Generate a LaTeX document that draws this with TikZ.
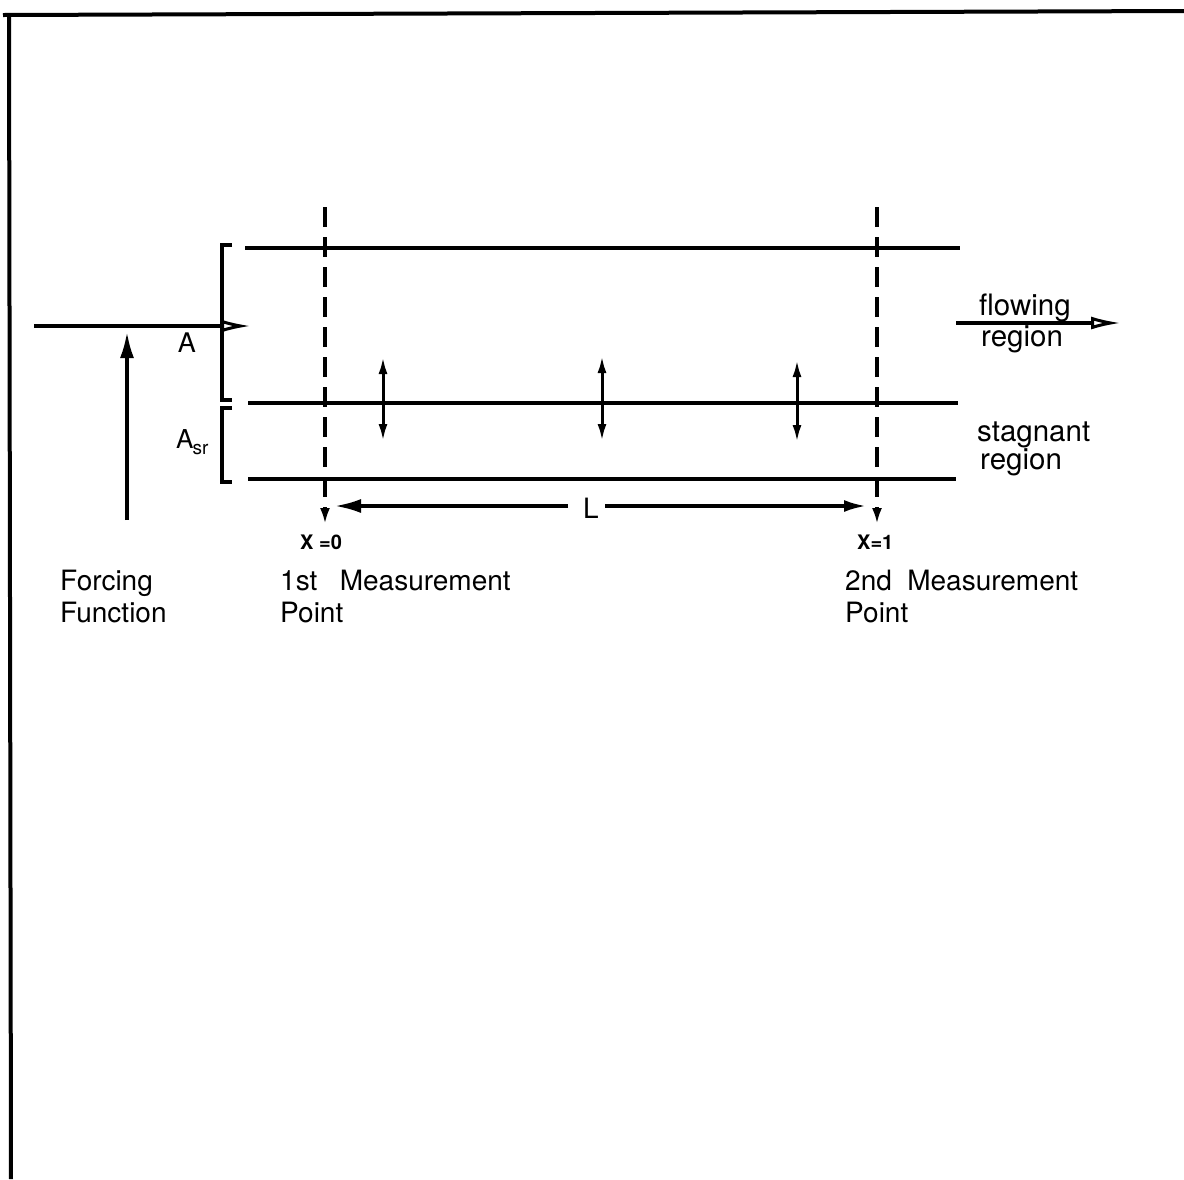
\documentclass[tikz,border=0pt]{standalone}
\usepackage{fontspec}
\setmainfont{TeX Gyre Heros}
\usetikzlibrary{arrows.meta}
\begin{document}
\begin{tikzpicture}[x=1pt,y=-1pt,
  lbl/.style={anchor=base west, inner sep=0pt, font=\fontsize{28}{32}\selectfont},
  rlbl/.style={anchor=base west, inner sep=0pt, font=\fontsize{29.5}{33}\selectfont},
  xlbl/.style={anchor=base west, inner sep=0pt, font=\bfseries\fontsize{20}{22}\selectfont},
  frameline/.style={line width=4pt},
  chan/.style={line width=3.2pt},
  brk/.style={line width=3.2pt},
  dashv/.style={line width=3.2pt, dash pattern=on 20pt off 10pt, -{Latex[length=16pt,width=10pt]}},
  dbl/.style={line width=3pt, {Latex[length=17pt,width=9pt]}-{Latex[length=17pt,width=9pt]}},
  solidarr/.style={line width=3.2pt, -{Latex[length=26pt,width=14pt]}},
  openarr/.style={line width=3.2pt, -{Latex[open,length=30pt,width=13pt,line width=3pt]}}
]
\useasboundingbox (0,0) rectangle (1184,1179);

% frame
\coordinate (ftl) at (9,15);
\coordinate (ftr) at (1184,11);
\coordinate (fbl) at (11,1179);
\draw[frameline] (3,15) -- (ftr);
\draw[frameline] (ftl) -- (fbl);

% channel lines
\coordinate (t1) at (245,248); \coordinate (t2) at (960,248);
\coordinate (m1) at (248,403); \coordinate (m2) at (958,403);
\coordinate (b1) at (248,479); \coordinate (b2) at (956,479);
\draw[chan] (t1) -- (t2);
\draw[chan] (m1) -- (m2);
\draw[chan] (b1) -- (b2);

% brackets
\coordinate (ba1) at (232,245); \coordinate (ba2) at (222,245);
\coordinate (ba3) at (222,400); \coordinate (ba4) at (232,400);
\coordinate (bs1) at (232,408); \coordinate (bs2) at (222,408);
\coordinate (bs3) at (222,482); \coordinate (bs4) at (232,482);
\draw[brk] (ba1) -- (ba2) -- (ba3) -- (ba4);
\draw[brk] (bs1) -- (bs2) -- (bs3) -- (bs4);

% labels A and A_sr
\node[anchor=base, inner sep=0pt, font=\fontsize{27}{31}\selectfont] (A) at (187,352) {A};
\node[anchor=base west, inner sep=0pt, font=\fontsize{26}{30}\selectfont] (Asr) at (176,448)
  {A\kern-1pt\raisebox{-6pt}{\fontsize{19}{21}\selectfont sr}};

% input arrow
\coordinate (in1) at (34,326); \coordinate (in2) at (251,326);
\draw[openarr] (in1) -- (in2);

% forcing arrow
\coordinate (f1) at (127,520); \coordinate (f2) at (127,332);
\draw[solidarr] (f1) -- (f2);

% measurement dashed lines
\coordinate (d0t) at (325,207); \coordinate (d0b) at (325,524);
\coordinate (d1t) at (877,207); \coordinate (d1b) at (877,524);
\draw[dashv] (d0t) -- (d0b);
\draw[dashv] (d1t) -- (d1b);

% exchange arrows
\coordinate (e1t) at (383,357); \coordinate (e1b) at (383,441);
\coordinate (e2t) at (602,356); \coordinate (e2b) at (602,441);
\coordinate (e3t) at (797,360); \coordinate (e3b) at (797,442);
\draw[dbl] (e1t) -- (e1b);
\draw[dbl] (e2t) -- (e2b);
\draw[dbl] (e3t) -- (e3b);

% L dimension
\node[inner sep=0pt, font=\fontsize{28}{32}\selectfont] (L) at (591,508) {L};
\coordinate (La) at (568,506); \coordinate (Lat) at (335,506);
\coordinate (Lb) at (605,506); \coordinate (Lbt) at (866,506);
\draw[solidarr] (La) -- (Lat);
\draw[line width=3.2pt, -{Latex[length=22pt,width=12pt]}] (Lb) -- (Lbt);

% x labels
\node[xlbl] (x0) at (300,549) {X =0};
\node[xlbl] (x1) at (857,549) {X=1};

% bottom labels
\node[lbl] (ff1) at (60,590) {Forcing};
\node[lbl] (ff2) at (60,622) {Function};
\node[lbl] (m11) at (280,590) {1st\hspace{0.8em}Measurement};
\node[lbl] (m12) at (280,622) {Point};
\node[lbl] (m21) at (845,590) {2nd\hspace{0.55em}Measurement};
\node[lbl] (m22) at (845,622) {Point};

% flowing region
\coordinate (fl1) at (956,323); \coordinate (fl2) at (1121,323);
\draw[openarr] (fl1) -- (fl2);
\node[rlbl] (fr1) at (979,315) {flowing};
\node[rlbl] (fr2) at (981,346) {region};

% stagnant region
\node[rlbl] (sr1) at (977,441) {stagnant};
\node[rlbl] (sr2) at (980,469) {region};
\end{tikzpicture}
\end{document}
